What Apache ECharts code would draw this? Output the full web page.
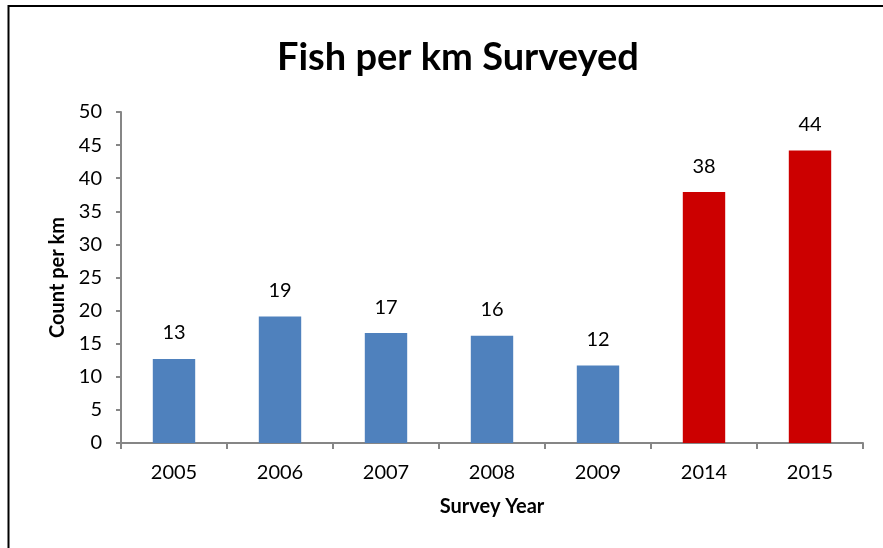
<!DOCTYPE html>
<html>
<head>
<meta charset="utf-8">
<title>Fish per km Surveyed</title>
<script src="https://cdn.jsdelivr.net/npm/echarts@6/dist/echarts.min.js"></script>
<style>
  html, body { margin: 0; padding: 0; background: #fff; }
  #chart { width: 883px; height: 548px; }
</style>
</head>
<body>
<div id="chart"></div>
<script>
// survey data
var years = ['2005', '2006', '2007', '2008', '2009', '2014', '2015']
var counts = [12.7, 19.1, 16.6, 16.2, 11.7, 37.9, 44.2]
var barColors = ['#4F81BD', '#4F81BD', '#4F81BD', '#4F81BD', '#4F81BD', '#CC0000', '#CC0000']

var myChart = echarts.init(document.getElementById('chart'))
var font = 'Lato, "Open Sans", sans-serif'

var option = {
    backgroundColor: '#fff',
    animation: false,
    textStyle: { fontFamily: font },
    title: {
        text: 'Fish per km Surveyed',
        left: 272,
        top: 34,
        textStyle: { fontSize: 38, fontWeight: 'bold', color: '#000', fontFamily: font }
    },
    // outer frame (top + left edges only)
    graphic: [{
        type: 'polyline',
        shape: { points: [[8.5, 548], [8.5, 6], [883, 6]] },
        style: { stroke: '#000', lineWidth: 2, fill: null }
    }],
    grid: { left: 121, top: 112, right: 20, bottom: 105 },
    xAxis: {
        type: 'category',
        data: years,
        name: 'Survey Year',
        nameLocation: 'middle',
        nameGap: 54,
        nameTextStyle: { fontSize: 20, fontWeight: 'bold', color: '#000' },
        axisLine: { lineStyle: { color: '#868686', width: 2 } },
        axisTick: { show: true, length: 6, alignWithLabel: false, lineStyle: { color: '#868686', width: 2 } },
        axisLabel: { fontSize: 20, color: '#000', margin: 20 }
    },
    yAxis: {
        type: 'value',
        min: 0,
        max: 50,
        interval: 5,
        name: 'Count per km',
        nameLocation: 'middle',
        nameGap: 53,
        nameTextStyle: { fontSize: 20, fontWeight: 'bold', color: '#000' },
        splitLine: { show: false },
        axisLine: { show: true, lineStyle: { color: '#868686', width: 2 } },
        axisTick: { show: true, length: 5, lineStyle: { color: '#868686', width: 2 } },
        axisLabel: { fontSize: 20, color: '#000', margin: 19 }
    },
    series: [{
        type: 'bar',
        barWidth: '40%',
        data: counts.map(function (v, i) {
            return { value: v, itemStyle: { color: barColors[i] } }
        }),
        label: {
            show: true,
            position: 'top',
            distance: 16,
            fontSize: 20,
            color: '#000',
            formatter: function (p) { return Math.round(p.value) }
        }
    }]
}

myChart.setOption(option)
window.addEventListener('resize', function () {
    myChart.resize()
})
</script>
</body>
</html>
